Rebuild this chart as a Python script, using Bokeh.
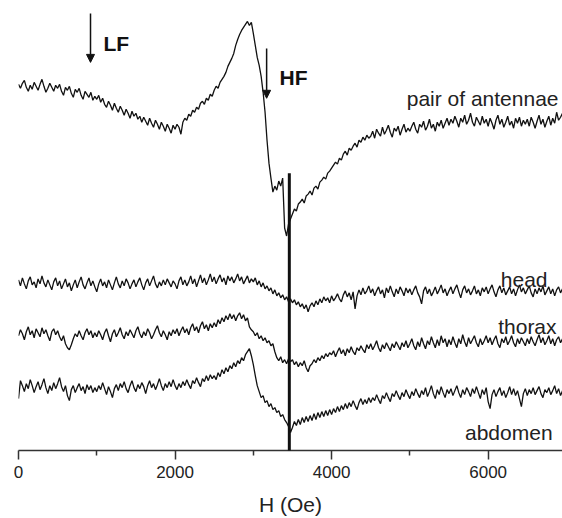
from bokeh.plotting import figure
from bokeh.models import Range1d, FixedTicker, Label, Arrow, NormalHead
from bokeh.embed import file_html
from bokeh.resources import INLINE

# Magnetic field H (Oe), sampled every 25 Oe
field = list(range(0, 7001, 25))

# Signal (arbitrary units, plotted downward-increasing)
antennae = [
    84, 88, 83, 80, 87, 91, 85, 89, 82, 86,
    90, 84, 79, 86, 92, 88, 83, 87, 91, 85,
    88, 84, 91, 95, 87, 90, 86, 93, 97, 89,
    92, 88, 95, 99, 91, 94, 97, 92, 100, 96,
    99, 95, 102, 98, 104, 107, 101, 105, 110, 103,
    108, 112, 106, 110, 115, 109, 113, 118, 111, 116,
    113, 119, 116, 122, 117, 121, 125, 118, 123, 127,
    120, 124, 129, 122, 126, 131, 124, 128, 133, 125,
    129, 124, 127, 134, 122, 118, 120, 114, 116, 110,
    112, 107, 109, 103, 101, 104, 98, 100, 94, 96,
    90, 86, 88, 82, 79, 76, 72, 66, 62, 58,
    53, 45, 39, 34, 30, 27, 24, 21, 25, 22,
    33, 45, 57, 65, 76, 92, 112, 140, 163, 178,
    192, 186, 190, 181, 186, 178, 228, 236, 224, 219,
    214, 209, 211, 204, 202, 199, 203, 196, 194, 191,
    195, 188, 186, 189, 182, 180, 177, 179, 173, 171,
    168, 165, 162, 164, 158, 160, 154, 151, 155, 148,
    150, 146, 143, 147, 140, 142, 137, 140, 135, 138,
    136, 131, 138, 129, 133, 136, 127, 134, 130, 125,
    132, 137, 128, 131, 126, 135, 129, 124, 132, 128,
    131, 126, 122, 129, 133, 124, 127, 121, 130, 126,
    119, 128, 124, 131, 122, 126, 120, 128, 123, 118,
    125, 119, 123, 116, 121, 127, 118, 122, 115, 124,
    120, 113, 122, 126, 117, 121, 125, 116, 123, 119,
    126, 118, 123, 129, 120, 115, 124, 119, 127, 122,
    116, 125, 121, 128, 118, 123, 117, 126, 120, 124,
    119, 126, 117, 122, 128, 121, 115, 124, 119, 127,
    121, 116, 125, 118, 123, 112, 120, 117, 113, 118,
    115,
]
head = [
    280, 286, 278, 284, 289, 281, 277, 285, 282, 288,
    279, 284, 276, 283, 287, 280, 285, 290, 282, 278,
    286, 281, 289, 284, 279, 287, 283, 291, 285, 280,
    288, 282, 277, 285, 289, 283, 278, 286, 281, 287,
    292, 284, 279, 286, 282, 288, 280, 285, 290, 283,
    277, 284, 288, 281, 286, 279, 283, 289, 284, 280,
    287, 282, 278, 285, 290, 283, 279, 286, 281, 276,
    284, 288, 282, 286, 280, 285, 279, 283, 287, 281,
    284, 289, 281, 277, 285, 280, 286, 282, 276, 284,
    279, 287, 281, 275, 283, 278, 285, 280, 274, 282,
    277, 284, 279, 275, 282, 278, 285, 276, 281, 277,
    283, 279, 274, 281, 277, 284, 280, 276, 283, 279,
    282, 278, 285, 281, 287, 283, 289, 286, 291, 288,
    294, 290, 296, 293, 298, 295, 300, 297, 302, 299,
    303, 300, 305, 302, 307, 304, 309, 305, 312, 306,
    303, 307, 301, 305, 299, 303, 297, 301, 298, 303,
    296, 301, 298, 294, 299, 302, 295, 291, 297, 293,
    300, 292, 309, 296, 290, 295, 288, 294, 291, 286,
    293, 289, 296, 291, 287, 294, 290, 298, 288, 293,
    286, 292, 297, 289, 294, 287, 291, 296, 288, 293,
    289, 295, 290, 286, 293, 297, 304, 291, 287, 294,
    289, 296, 292, 287, 294, 290, 285, 293, 289, 296,
    291, 287, 294, 289, 285, 292, 298, 290, 286, 293,
    289, 295, 291, 286, 294, 290, 296, 288, 292, 287,
    294, 289, 285, 292, 297, 290, 286, 293, 288, 295,
    291, 287, 294, 289, 296, 290, 285, 292, 288, 294,
    290, 286, 293, 297, 289, 294, 288, 292, 286, 295,
    291, 287, 294, 289, 296, 290, 287, 293, 289, 291,
    292,
]
thorax = [
    336, 330, 334, 340, 332, 327, 335, 331, 338, 329,
    333, 337, 328, 334, 330, 336, 341, 332, 329, 335,
    331, 337, 341, 336, 344, 348, 350, 345, 339, 334,
    337, 331, 336, 340, 333, 329, 335, 331, 338, 333,
    337, 331, 335, 340, 333, 329, 336, 342, 334, 330,
    337, 333, 328, 335, 339, 332, 336, 330, 334, 338,
    331, 327, 334, 338, 332, 336, 329, 333, 339, 335,
    330, 326, 333, 337, 331, 335, 340, 332, 336, 330,
    334, 329, 336, 331, 327, 333, 329, 335, 328, 324,
    331, 327, 333, 326, 322, 329, 325, 331, 324, 328,
    323, 327, 320, 324, 318, 322, 316, 320, 314, 319,
    315, 321, 316, 313, 319, 315, 321, 318, 327, 330,
    332, 336, 333, 339, 336, 341, 338, 343, 341, 346,
    344, 352, 358, 361, 357, 363, 360, 364, 359, 362,
    360, 365, 362, 367, 363, 366, 361, 368, 372, 366,
    364, 360, 363, 358, 361, 356, 359, 354, 357, 353,
    355, 351, 357, 352, 348, 354, 350, 356, 349, 353,
    347, 352, 355, 348, 351, 346, 350, 353, 345, 349,
    344, 350, 346, 341, 348, 352, 345, 349, 343, 347,
    351, 344, 348, 342, 346, 350, 343, 347, 341, 348,
    344, 339, 346, 350, 342, 347, 338, 344, 349, 341,
    345, 337, 343, 348, 340, 346, 336, 343, 339, 347,
    340, 345, 337, 343, 348, 339, 344, 335, 342, 347,
    338, 344, 340, 336, 343, 347, 339, 345, 341, 336,
    343, 338, 345, 340, 336, 344, 348, 339, 343, 337,
    345, 341, 336, 343, 347, 339, 344, 338, 342, 346,
    339, 344, 337, 342, 346, 340, 335, 343, 338, 345,
    341, 336, 344, 339, 346, 340, 337, 343, 339, 345,
    341,
]
abdomen = [
    399, 381, 386, 392, 384, 389, 380, 386, 393, 387,
    382, 390, 385, 379, 388, 394, 386, 391, 383, 389,
    384, 378, 387, 392, 386, 396, 401, 390, 386, 393,
    388, 384, 391, 387, 394, 385, 390, 386, 393, 388,
    392, 386, 390, 383, 389, 395, 387, 392, 398, 389,
    385, 391, 384, 388, 382, 389, 393, 386, 381, 388,
    392, 385, 389, 383, 387, 394, 386, 381, 388, 384,
    390, 385, 379, 386, 391, 384, 388, 382, 387, 380,
    386, 390, 384, 388, 382, 386, 380, 385, 389, 381,
    384, 378, 383, 387, 379, 382, 376, 381, 375, 379,
    376, 380, 373, 377, 370, 374, 368, 372, 366, 369,
    363, 367, 361, 364, 358, 361, 355, 352, 349, 356,
    365, 376, 386, 392, 398, 396, 403, 401, 407, 404,
    410, 408, 413, 411, 417, 415, 420, 423, 427, 433,
    428, 422, 426, 420, 425, 418, 423, 417, 422, 416,
    421, 414, 420, 413, 418, 412, 417, 411, 416, 410,
    415, 409, 413, 407, 412, 406, 410, 404, 409, 403,
    407, 401, 406, 410, 403, 399, 405, 400, 404, 398,
    403, 398, 401, 395, 400, 404, 396, 399, 393, 398,
    402, 394, 397, 391, 396, 400, 393, 397, 390, 395,
    399, 392, 396, 389, 394, 398, 391, 395, 388, 397,
    392, 386, 394, 399, 390, 395, 387, 393, 398, 390,
    394, 389, 396, 391, 386, 393, 398, 390, 395, 388,
    392, 397, 389, 394, 387, 393, 399, 390, 395, 388,
    402, 409, 395, 390, 397, 392, 388, 396, 391, 398,
    393, 387, 395, 389, 396, 391, 399, 407, 394, 389,
    396, 390, 394, 388, 395, 391, 387, 394, 398, 390,
    393, 388, 395, 391, 386, 394, 389, 396, 391, 388,
    394,
]
series = [antennae, head, thorax, abdomen]
trace_names = ["pair of antennae", "head", "thorax", "abdomen"]
x_ticks = [0, 2000, 4000, 6000]
x_minor_ticks = [1000, 3000, 5000]
marker_names = ["LF", "HF"]
marker_fields = [920, 3170]
g_line_field = 3460

FONT = "Liberation Sans"
INK = "#111111"
TEXT = "#222222"

p = figure(width=562, height=518,
           x_range=Range1d(0, 6950), y_range=Range1d(451, 8),
           output_backend="svg", toolbar_location=None,
           y_axis_location=None,
           min_border_left=18, min_border_right=0,
           min_border_top=8, min_border_bottom=67)
p.grid.visible = False
p.outline_line_color = None
p.background_fill_color = "white"
p.border_fill_color = "white"

for vals in series:
    p.line(field[:len(vals)], vals, line_color=INK, line_width=1.3)

ax = p.xaxis[0]
ax.ticker = FixedTicker(ticks=x_ticks, minor_ticks=x_minor_ticks)
ax.axis_label = "H (Oe)"
ax.axis_label_text_font = FONT
ax.axis_label_text_font_size = "21px"
ax.axis_label_text_font_style = "normal"
ax.axis_label_text_color = TEXT
ax.axis_label_standoff = 12
ax.major_label_text_font = FONT
ax.major_label_text_font_size = "17px"
ax.major_label_text_color = TEXT
ax.major_label_standoff = 6
ax.major_tick_out = 9
ax.major_tick_in = 0
ax.minor_tick_out = 5
ax.minor_tick_in = 0
ax.axis_line_color = "#333333"
ax.axis_line_width = 1.5
ax.major_tick_line_color = "#333333"
ax.major_tick_line_width = 1.5
ax.minor_tick_line_color = "#333333"
ax.minor_tick_line_width = 1.5

# g-marker vertical line
p.add_layout(Arrow(start=None, end=None, x_start=g_line_field, y_start=173,
                   x_end=g_line_field, y_end=465,
                   line_color=INK, line_width=3))

# LF / HF arrows
arrow_tops = [13, 48]
arrow_tips = [62, 98]
for xf, top, tip in zip(marker_fields, arrow_tops, arrow_tips):
    p.add_layout(Arrow(end=NormalHead(size=8, fill_color=INK, line_color=INK),
                       x_start=xf, y_start=top, x_end=xf, y_end=tip,
                       line_color=INK, line_width=1.5))

marker_text_x = [1086, 3335]
marker_text_y = [43, 77]
for name, xt, yt in zip(marker_names, marker_text_x, marker_text_y):
    p.add_layout(Label(x=xt, y=yt, text=name, text_align="left",
                       text_baseline="alphabetic", text_font=FONT,
                       text_font_size="21px", text_font_style="bold",
                       text_color=INK))

label_x = [6899, 6759, 6874, 6823]
label_y = [98, 280, 327, 433]
for name, xl, yl in zip(trace_names, label_x, label_y):
    p.add_layout(Label(x=xl, y=yl, text=name, text_align="right",
                       text_baseline="alphabetic", text_font=FONT,
                       text_font_size="21px", text_color=TEXT))

open("out.html", "w").write(file_html(p, INLINE))
